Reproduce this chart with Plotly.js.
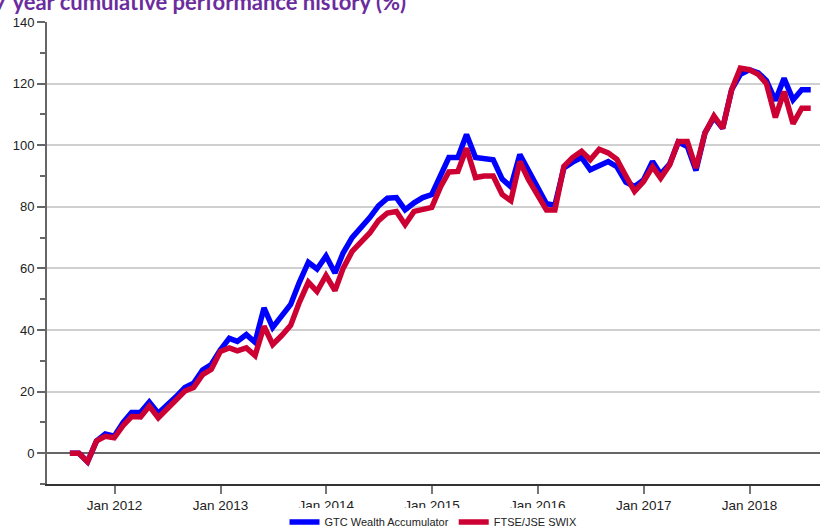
<!DOCTYPE html>
<html>
<head>
<meta charset="utf-8">
<script src="https://cdn.plot.ly/plotly-3.0.1.min.js"></script>
<style>
  html, body { margin: 0; padding: 0; background: #ffffff; }
  #chart { width: 820px; height: 527px; }
</style>
</head>
<body>
<div id="chart"></div>
<script>
// Month-end dates, Jul 2011 .. Jul 2018
const startYear = 2011, startMonth = 7, monthCount = 85;
const dates = [];
for (let k = 0; k < monthCount; k++) {
  const m0 = startMonth - 1 + k;
  const y = startYear + Math.floor(m0 / 12);
  const m = (m0 % 12) + 1;
  const last = new Date(Date.UTC(y, m, 0)).getUTCDate();
  dates.push(y + '-' + String(m).padStart(2, '0') + '-' + String(last).padStart(2, '0'));
}

const seriesNames = ['GTC Wealth Accumulator', 'FTSE/JSE SWIX'];

const gtcValues = [
  0, 0, -2.8, 4, 6.2, 5.5, 10, 13.2, 13.3, 16.6, 13, 15.5,
  18.3, 21.3, 22.7, 27, 28.8, 33.5, 37.3, 36.3, 38.5, 36, 47.2, 40.8,
  44.5, 48.3, 55.5, 62, 59.8, 64, 58.5, 65, 70, 73, 76.5, 80.3,
  82.8, 83, 79, 81.3, 83, 84, 90, 96, 96, 103.5, 96, 95.5,
  95.3, 89, 86.5, 97, 91.5, 86.5, 81, 80.5, 92.6, 94.5, 96, 92,
  93.5, 94.7, 93, 88, 86.6, 88.7, 94.7, 90.6, 93.9, 101, 99.6, 91.8,
  104, 109, 105.5, 118, 123, 124.5, 123.5, 121, 114.5, 121.7, 114.7, 118,
  118
];

const swixValues = [
  0, 0, -2.8, 4, 5.5, 5, 9, 11.9, 11.8, 15.3, 11.5, 14.3,
  17.2, 20.2, 21.3, 25.5, 27.2, 33, 34.2, 33.2, 34.2, 31.7, 41.2, 35.3,
  38.2, 41.5, 49, 55.5, 52.5, 57.7, 52.8, 60, 65.5, 68.5, 71.5, 75.5,
  78, 78.5, 74.2, 78.5, 79.3, 79.8, 86.6, 91.3, 91.5, 99, 89.5, 90,
  90, 84, 82, 94.7, 88.8, 84, 79, 79, 93.1, 96, 98, 95.3,
  98.7, 97.5, 95.4, 90, 85, 88.2, 93, 89.3, 93.6, 101.2, 101.2, 92.6,
  104, 109.5, 105.5, 118, 125, 124.5, 123, 120, 109, 117.4, 107, 112,
  112
];

const xTickVals = ['2012-01-01', '2013-01-01', '2014-01-01', '2015-01-01', '2016-01-01', '2017-01-01', '2018-01-01'];
const xTickText = ['Jan 2012', 'Jan 2013', 'Jan 2014', 'Jan 2015', 'Jan 2016', 'Jan 2017', 'Jan 2018'];
const yTickVals = [0, 20, 40, 60, 80, 100, 120, 140];

const traces = [
  {
    x: dates, y: gtcValues, name: seriesNames[0], type: 'scatter', mode: 'lines',
    line: { color: '#0000ff', width: 5.5 }
  },
  {
    x: dates, y: swixValues, name: seriesNames[1], type: 'scatter', mode: 'lines',
    line: { color: '#cc0033', width: 5.5 }
  }
];

const layout = {
  width: 820, height: 527,
  paper_bgcolor: '#ffffff', plot_bgcolor: '#ffffff',
  margin: { l: 47, r: 0, t: 22, b: 43, autoexpand: false },
  font: { family: 'Liberation Sans, Arial, sans-serif', color: '#222222', size: 13 },
  title: {
    text: '7 year cumulative performance history (%)',
    font: { family: 'Lato, Open Sans, sans-serif', size: 22, color: '#6b2c9e', weight: 'bold' },
    xref: 'container', yref: 'container',
    x: 406 / 820, xanchor: 'right',
    y: 1 - 2 / 527, yanchor: 'middle'
  },
  showlegend: true,
  legend: {
    orientation: 'h', x: 0.5, xanchor: 'center', xref: 'paper',
    y: 5 / 527, yanchor: 'middle', yref: 'container',
    font: { family: 'Liberation Sans, Arial, sans-serif', size: 11, color: '#222222' },
    itemwidth: 30, tracegroupgap: 0
  },
  xaxis: {
    type: 'date',
    range: ['2011-05-13', '2018-09-01'],
    tickmode: 'array', tickvals: xTickVals, ticktext: xTickText,
    ticks: 'outside', ticklen: 8, tickwidth: 2, tickcolor: '#777777',
    showline: true, linecolor: '#333333', linewidth: 2,
    showgrid: false, zeroline: false,
    tickfont: { size: 13.5, color: '#222222' }
  },
  yaxis: {
    range: [-10, 140],
    tickmode: 'array', tickvals: yTickVals,
    ticks: 'outside', ticklen: 8, tickwidth: 2, tickcolor: '#666666',
    minor: { dtick: 10, tick0: 0, ticks: 'outside', ticklen: 5, tickwidth: 2, tickcolor: '#666666', showgrid: false },
    showline: true, linecolor: '#666666', linewidth: 2,
    showgrid: true, gridcolor: '#d0d0d0', gridwidth: 2,
    zeroline: true, zerolinecolor: '#666666', zerolinewidth: 2,
    tickfont: { size: 13, color: '#222222' }
  }
};

Plotly.newPlot('chart', traces, layout, { displayModeBar: false, staticPlot: true });
</script>
</body>
</html>
